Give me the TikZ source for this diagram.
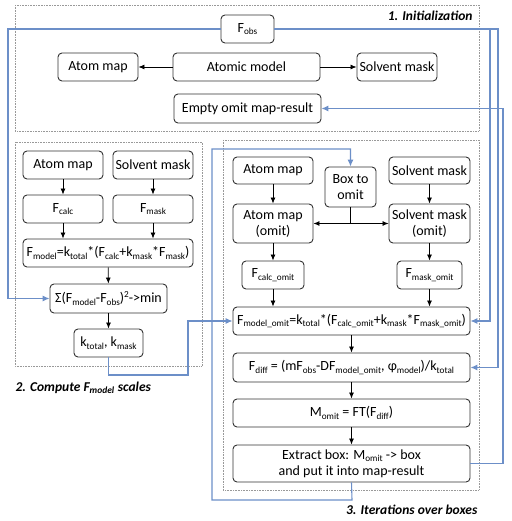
\documentclass[tikz,border=0pt]{standalone}
\usepackage{fontspec}
\setmainfont{Carlito}
\usetikzlibrary{arrows.meta,calc}
\definecolor{bluel}{RGB}{108,143,200}
\definecolor{boxline}{RGB}{50,50,50}
\newcommand{\sbs}[1]{\raisebox{-2.6pt}{\fontsize{9.2}{10}\selectfont #1}}
\newcommand{\sps}[1]{\raisebox{5pt}{\fontsize{9.2}{10}\selectfont #1}}
\begin{document}
\begin{tikzpicture}[x=1pt,y=-1pt,
  every node/.style={font=\fontsize{14}{16}\selectfont},
  bx/.style={draw=boxline,line width=0.9pt,rounded corners=4pt,fill=white,inner sep=1pt,align=center,minimum height=28pt},
  frm/.style={draw=gray!80,densely dotted,line width=0.6pt},
  ar/.style={-{Latex[length=6pt,width=5pt]},line width=0.8pt,black},
  bl/.style={draw=bluel,line width=1.1pt},
  bla/.style={bl,-{Latex[length=7pt,width=6pt]}},
  lab/.style={font=\fontsize{13.5}{15}\selectfont\bfseries\itshape}
]
\useasboundingbox (0,0) rectangle (511,521);
% frames
\draw[frm] (15,5) rectangle (479,131);
\draw[frm] (15,142) rectangle (202,366);
\draw[frm] (223,140) rectangle (479,490);
\node[lab,anchor=east] (l1) at (476,16) {1. Initialization};
\node[lab,anchor=west] (l2) at (12,388) {2. Compute F\textsubscript{model} scales};
\node[lab,anchor=east] (l3) at (481,510) {3. Iterations over boxes};
% coordinates for blue lines
\coordinate (c1) at (8,29);
\coordinate (c2a) at (490,29);
\coordinate (c2b) at (498,29);
\coordinate (c3) at (503,463.5);
\coordinate (c4a) at (352,500);
\coordinate (c4b) at (212,500);
\coordinate (c4c) at (212,149);
\coordinate (c5a) at (108.5,375);
\coordinate (c5b) at (188,375);
% frame 1 nodes
\node[bx,minimum width=53pt] (fobs) at (247.5,29) {F\sbs{obs}};
\node[bx,minimum width=80pt] (am1) at (98,67) {Atom map};
\node[bx,minimum width=147pt] (atm) at (246.5,67) {Atomic model};
\node[bx,minimum width=80pt] (sm1) at (397,67) {Solvent mask};
\node[bx,minimum width=147pt,minimum height=29pt] (empty) at (247.5,108.5) {Empty omit map-result};
% frame 2 nodes
\node[bx,minimum width=80pt] (am2) at (63,165) {Atom map};
\node[bx,minimum width=80pt] (sm2) at (153,165) {Solvent mask};
\node[bx,minimum width=80pt] (fcalc) at (63,209) {F\sbs{calc}};
\node[bx,minimum width=80pt] (fmask) at (153,209) {F\sbs{mask}};
\node[bx,minimum width=170pt] (fmodel) at (108,253) {F\sbs{model}=k\sbs{total}*(F\sbs{calc}+k\sbs{mask}*F\sbs{mask})};
\node[bx,minimum width=117pt,minimum height=29pt] (sigma) at (108.5,298.5) {Σ(F\sbs{model}-F\sbs{obs})\sps{2}->min};
\node[bx,minimum width=69pt] (kk) at (108.5,343) {k\sbs{total}, k\sbs{mask}};
% frame 3 nodes
\node[bx,minimum width=80pt,minimum height=27pt] (am3) at (273,170.5) {Atom map};
\node[bx,minimum width=51pt,minimum height=40pt] (box) at (350.5,187) {Box to\\omit};
\node[bx,minimum width=81pt,minimum height=27pt] (sm3) at (429.5,170.5) {Solvent mask};
\node[bx,minimum width=80pt,minimum height=39pt] (amo) at (273,223.5) {Atom map\\(omit)};
\node[bx,minimum width=81pt,minimum height=39pt] (smo) at (429.5,223.5) {Solvent mask\\(omit)};
\node[bx,minimum width=62pt] (fco) at (273,275) {F\sbs{calc\_omit}};
\node[bx,minimum width=65pt] (fmko) at (429.5,275) {F\sbs{mask\_omit}};
\node[bx,minimum width=237pt] (fmo) at (351.5,321) {F\sbs{model\_omit}=k\sbs{total}*(F\sbs{calc\_omit}+k\sbs{mask}*F\sbs{mask\_omit})};
\node[bx,minimum width=237pt,minimum height=29pt] (fdiff) at (351.5,367.5) {F\sbs{diff} = (mF\sbs{obs}-DF\sbs{model\_omit}, φ\sbs{model})/k\sbs{total}};
\node[bx,minimum width=237pt] (momit) at (351.5,413) {M\sbs{omit} = FT(F\sbs{diff})};
\node[bx,minimum width=237pt,minimum height=37pt] (ext) at (351.5,463.5) {Extract box: M\sbs{omit} -> box\\and put it into map-result};
% black arrows
\draw[ar] (atm) -- (am1);
\draw[ar] (atm) -- (sm1);
\draw[ar] (am2) -- (fcalc);
\draw[ar] (sm2) -- (fmask);
\draw[ar] (fcalc) -- (fcalc |- fmodel.north);
\draw[ar] (fmask) -- (fmask |- fmodel.north);
\draw[ar] (fmodel) -- (sigma);
\draw[ar] (sigma) -- (kk);
\draw[ar] (am3) -- (amo);
\draw[ar] (sm3) -- (smo);
\draw[line width=0.8pt] (box.south) -- (box.south |- amo.east) coordinate (bj);
\draw[ar] (bj) -- (amo.east);
\draw[ar] (bj) -- (smo.west);
\draw[ar] (amo) -- (fco);
\draw[ar] (smo) -- (fmko);
\draw[ar] (fco) -- (fco |- fmo.north);
\draw[ar] (fmko) -- (fmko |- fmo.north);
\draw[ar] (fmo) -- (fdiff);
\draw[ar] (fdiff) -- (momit);
\draw[ar] (momit) -- (ext);
% blue lines
\draw[bla] (fobs.west) -- (c1) |- (sigma.west);
\draw[bla] (fobs.east) -- (c2b) |- (fdiff.east);
\draw[bla] (c2a) |- (fmo.east);
\draw[bla] (ext.east) -- (c3) |- (empty.east);
\draw[bla] (ext.south) -- (c4a) -- (c4b) -- (c4c) -| (box.north);
\draw[bla] (kk.south) -- (c5a) -- (c5b) |- (fmo.west);
\end{tikzpicture}
\end{document}
